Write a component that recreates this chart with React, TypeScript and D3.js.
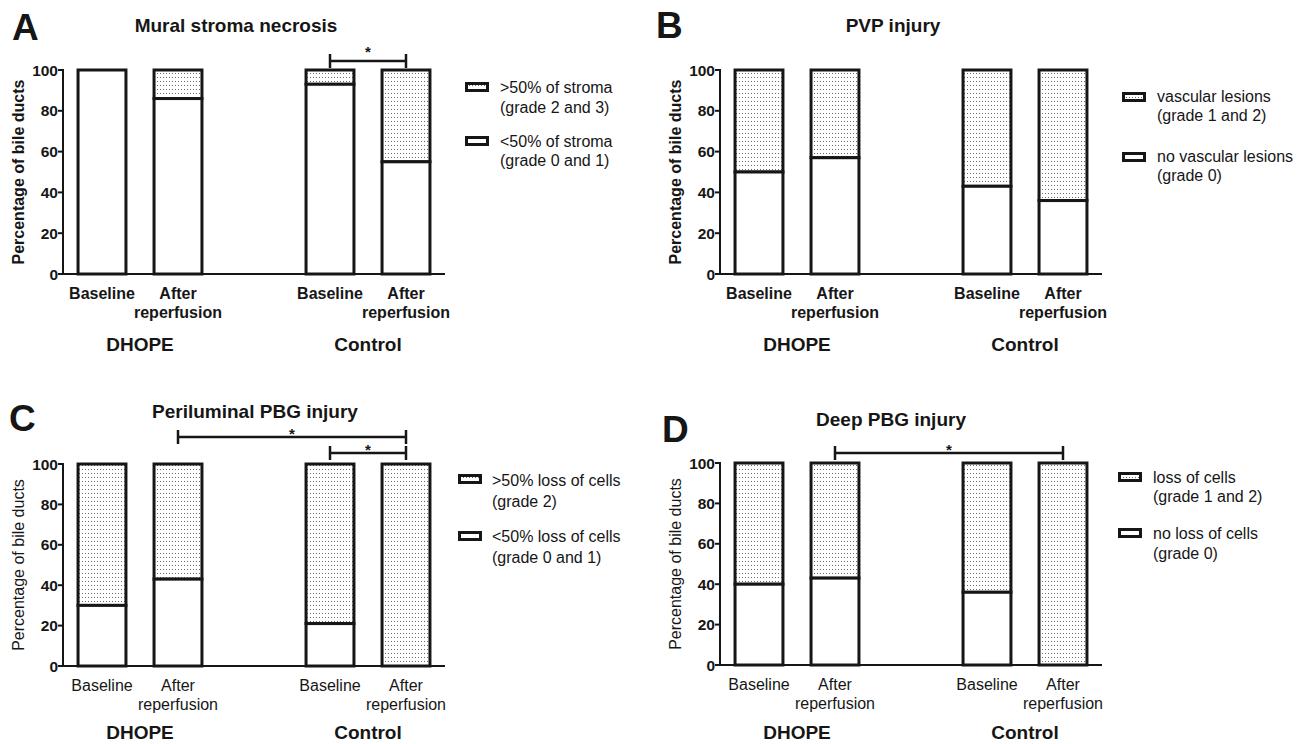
import * as d3 from "d3";

const W = 1303;
const H = 744;
const FONT = "'Liberation Sans', Arial, Helvetica, sans-serif";
const INK = "#161616";

// bar order inside every panel
const barKeys = ["DHOPE-Baseline", "DHOPE-After", "Control-Baseline", "Control-After"];
const slotKeys = ["DHOPE-Baseline", "DHOPE-After", "gap", "Control-Baseline", "Control-After"];
const barLabels = [["Baseline"], ["After", "reperfusion"], ["Baseline"], ["After", "reperfusion"]];
const groups = ["DHOPE", "Control"];
const yTicks = [0, 20, 40, 60, 80, 100];

// percentages: lower (white) part and upper (dotted) part of each bar
const muralLow = [100, 86, 93, 55];
const muralHigh = [0, 14, 7, 45];
const pvpLow = [50, 57, 43, 36];
const pvpHigh = [50, 43, 57, 64];
const periLow = [30, 43, 21, 0];
const periHigh = [70, 57, 79, 100];
const deepLow = [40, 43, 36, 0];
const deepHigh = [60, 57, 64, 100];

const muralLegend = [[">50% of stroma", "(grade 2 and 3)"], ["<50% of stroma", "(grade 0 and 1)"]];
const pvpLegend = [["vascular lesions", "(grade 1 and 2)"], ["no vascular lesions", "(grade 0)"]];
const periLegend = [[">50% loss of cells", "(grade 2)"], ["<50% loss of cells", "(grade 0 and 1)"]];
const deepLegend = [["loss of cells", "(grade 1 and 2)"], ["no loss of cells", "(grade 0)"]];

type Bracket = { from: string; to: string; dy: number; starDy: number };

type Panel = {
  letter: string;
  title: string;
  low: number[];
  high: number[];
  legend: string[][];
  ox: number;
  top: number;
  bottom: number;
  bold: boolean;
  groupY: number;
  letterPos: [number, number];
  titlePos: [number, number];
  legendBox: [number, number, number]; // box x, box y (first), row gap
  legendText: [number, number[]];
  brackets: Bracket[];
};

const panels: Panel[] = [
  {
    letter: "A",
    title: "Mural stroma necrosis",
    low: muralLow,
    high: muralHigh,
    legend: muralLegend,
    ox: 63,
    top: 70,
    bottom: 274,
    bold: true,
    groupY: 351,
    letterPos: [12, 40],
    titlePos: [236, 32],
    legendBox: [465, 82, 54],
    legendText: [500, [92.5, 112.5, 146.5, 165.5]],
    brackets: [{ from: "Control-Baseline", to: "Control-After", dy: -9, starDy: -4 }],
  },
  {
    letter: "B",
    title: "PVP injury",
    low: pvpLow,
    high: pvpHigh,
    legend: pvpLegend,
    ox: 720,
    top: 70,
    bottom: 274,
    bold: true,
    groupY: 351,
    letterPos: [656, 38],
    titlePos: [893, 32],
    legendBox: [1122, 92, 60],
    legendText: [1157, [101.5, 120.5, 161.5, 180.5]],
    brackets: [],
  },
  {
    letter: "C",
    title: "Periluminal PBG injury",
    low: periLow,
    high: periHigh,
    legend: periLegend,
    ox: 63,
    top: 464,
    bottom: 666,
    bold: false,
    groupY: 739,
    letterPos: [9, 431],
    titlePos: [255, 418],
    legendBox: [458, 474, 57],
    legendText: [492, [485.5, 506.5, 541.5, 562.5]],
    brackets: [
      { from: "DHOPE-After", to: "Control-After", dy: -27, starDy: 2 },
      { from: "Control-Baseline", to: "Control-After", dy: -11, starDy: 2 },
    ],
  },
  {
    letter: "D",
    title: "Deep PBG injury",
    low: deepLow,
    high: deepHigh,
    legend: deepLegend,
    ox: 720,
    top: 463,
    bottom: 665,
    bold: false,
    groupY: 739,
    letterPos: [662, 442],
    titlePos: [891, 426],
    legendBox: [1118, 472, 56],
    legendText: [1153, [482.5, 501.5, 538.5, 558.5]],
    brackets: [{ from: "DHOPE-After", to: "Control-After", dy: -10, starDy: 2 }],
  },
];

function ChartPanel({ p }: { p: Panel }) {
  const x = d3
    .scaleBand<string>()
    .domain(slotKeys)
    .range([p.ox + 1, p.ox + 381])
    .paddingInner(0.33)
    .paddingOuter(0.165);
  const y = d3.scaleLinear().domain([0, 100]).range([p.bottom, p.top]);
  const bw = x.bandwidth();
  const cx = (k: string) => (x(k) ?? 0) + bw / 2;
  const labelWeight = p.bold ? "bold" : "normal";

  return (
    <g>
      <text x={p.letterPos[0]} y={p.letterPos[1]} fontSize={37} fontWeight="bold" fill={INK}>
        {p.letter}
      </text>
      <text x={p.titlePos[0]} y={p.titlePos[1]} fontSize={19} fontWeight="bold" textAnchor="middle" fill={INK}>
        {p.title}
      </text>

      {/* bars */}
      {barKeys.map((k, i) => {
        const x0 = (x(k) ?? 0) + 1.5;
        const w = bw - 3;
        const lo = p.low[i];
        const hi = p.high[i];
        return (
          <g key={k}>
            {hi > 0 && (
              <rect
                x={x0}
                y={y(lo + hi)}
                width={w}
                height={y(lo) - y(lo + hi)}
                fill="url(#dots)"
                stroke={INK}
                strokeWidth={3}
              />
            )}
            {lo > 0 && (
              <rect x={x0} y={y(lo)} width={w} height={y(0) - y(lo)} fill="#fff" stroke={INK} strokeWidth={3} />
            )}
          </g>
        );
      })}

      {/* axes */}
      <line x1={p.ox} x2={p.ox} y1={y(100) - 1} y2={y(0)} stroke={INK} strokeWidth={2} />
      <line x1={p.ox - 1} x2={p.ox + 382} y1={y(0)} y2={y(0)} stroke={INK} strokeWidth={2} />
      {yTicks.map((t) => (
        <g key={t}>
          <line x1={p.ox - 5} x2={p.ox} y1={y(t)} y2={y(t)} stroke={INK} strokeWidth={2} />
          <text
            x={p.ox - 5}
            y={y(t)}
            dy="0.36em"
            textAnchor="end"
            fontSize={15.5}
            fontWeight="bold"
            fill={INK}
          >
            {t}
          </text>
        </g>
      ))}
      <text
        transform={`translate(${p.ox - 39},${(p.top + p.bottom) / 2}) rotate(-90)`}
        textAnchor="middle"
        fontSize={16}
        fontWeight={labelWeight}
        fill={INK}
      >
        Percentage of bile ducts
      </text>

      {/* category labels */}
      {barKeys.map((k, i) => (
        <text key={k} x={cx(k)} y={p.bottom + 25} textAnchor="middle" fontSize={16} fontWeight={labelWeight} fill={INK}>
          {barLabels[i].map((s, j) => (
            <tspan key={j} x={cx(k)} dy={j === 0 ? 0 : 19}>
              {s}
            </tspan>
          ))}
        </text>
      ))}
      {groups.map((g, gi) => (
        <text
          key={g}
          x={(cx(barKeys[gi * 2]) + cx(barKeys[gi * 2 + 1])) / 2}
          y={p.groupY}
          textAnchor="middle"
          fontSize={19}
          fontWeight="bold"
          fill={INK}
        >
          {g}
        </text>
      ))}

      {/* significance brackets */}
      {p.brackets.map((b, bi) => {
        const by = p.top + b.dy;
        const x1 = cx(b.from);
        const x2 = cx(b.to);
        return (
          <g key={bi} stroke={INK} strokeWidth={2.5}>
            <line x1={x1} x2={x2} y1={by} y2={by} />
            <line x1={x1} x2={x1} y1={by - 7} y2={by + 7} />
            <line x1={x2} x2={x2} y1={by - 7} y2={by + 7} />
            <text x={(x1 + x2) / 2} y={by + b.starDy} textAnchor="middle" fontSize={15} fontWeight="bold" fill={INK} stroke="none">
              *
            </text>
          </g>
        );
      })}

      {/* legend */}
      {p.legend.map((rows, li) => (
        <g key={li}>
          <rect
            x={p.legendBox[0] + 1.5}
            y={p.legendBox[1] + li * p.legendBox[2] + 1.5}
            width={21}
            height={7}
            fill={li === 0 ? "url(#dots)" : "#fff"}
            stroke={INK}
            strokeWidth={3}
          />
          {rows.map((s, ri) => (
            <text key={ri} x={p.legendText[0]} y={p.legendText[1][li * 2 + ri]} fontSize={16} fill={INK}>
              {s}
            </text>
          ))}
        </g>
      ))}
    </g>
  );
}

export default function App() {
  return (
    <svg
      width={W}
      height={H}
      viewBox={`0 0 ${W} ${H}`}
      style={{ position: "absolute", left: 0, top: 0, background: "#fff", fontFamily: FONT }}
    >
      <defs>
        <pattern id="dots" width={3} height={4} patternUnits="userSpaceOnUse">
          <rect width={3} height={4} fill="#fff" />
          <rect x={1} y={1} width={1} height={1} fill="#6a6a6a" />
        </pattern>
      </defs>
      <rect width={W} height={H} fill="#fff" />
      {panels.map((p) => (
        <ChartPanel key={p.letter} p={p} />
      ))}
    </svg>
  );
}
